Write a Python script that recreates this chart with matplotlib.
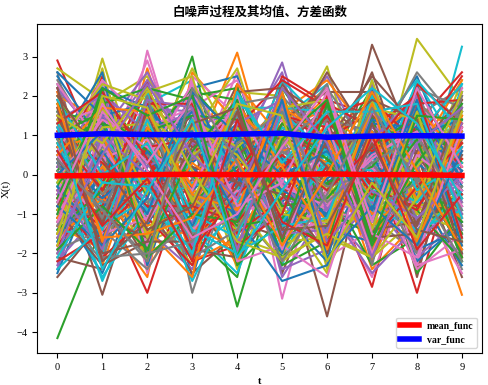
import numpy as np
import matplotlib.pyplot as plt

# white noise sample paths (one row = one path, t = 0..9)
t = np.arange(10)
paths_txt = """
0.5 -1.4 0.9 2.1 -0.3 -1.1 0.2 1.6 -0.7 0.4
-0.6 0.8 -1.2 0.3 3.1 -0.9 1.4 -0.2 0.7 -1.8
-4.15 -1.3 0.6 -0.4 1.1 -1.7 0.3 2.2 -0.9 0.1
2.9 0.2 -1.6 1.3 -0.5 0.8 -1.1 0.6 -3.0 0.9
1.2 -0.7 2.3 -1.9 0.4 1.6 -0.3 -1.2 1.8 -0.6
-1.5 1.7 0.1 -0.8 1.9 -0.2 -1.4 3.3 0.5 -2.1
0.3 -2.2 3.15 -0.6 -1.3 0.9 1.8 -0.4 -1.6 1.2
-0.9 0.6 -0.3 1.7 -2.1 2.4 0.1 -1.5 0.8 -0.2
1.8 -1.1 0.7 -1.4 0.2 -0.6 1.3 -0.9 3.45 1.9
-0.2 2.3 -1.8 0.5 1.5 -2.3 0.7 1.1 -1.0 3.25
0.8 -0.4 1.5 -2.6 0.9 0.3 -1.9 0.4 2.1 -0.7
-1.8 1.1 -0.5 0.2 -1.6 1.3 2.2 -0.8 0.3 -3.05
0.1 -1.9 2.0 0.9 -3.35 0.5 -0.6 1.9 -1.3 0.8
1.5 0.4 -1.0 -1.6 0.6 1.8 -0.1 -2.85 1.4 -0.4
-2.4 0.9 1.2 -0.3 1.0 -1.4 0.9 0.2 -0.5 1.6
0.7 -0.3 -2.2 1.9 -0.8 0.4 -3.6 1.0 0.6 -1.3
-0.4 1.6 0.3 -1.1 2.2 -3.15 1.1 -0.7 -1.9 0.5
2.6 -2.0 0.8 0.6 -0.2 1.1 -0.8 1.7 0.2 -2.4
-1.1 2.95 -0.7 -2.3 0.8 -0.5 2.0 -1.9 1.1 0.3
0.9 -0.8 1.8 2.4 -1.5 2.0 -1.2 0.5 -2.2 1.4
-2.5 0.3 -1.3 1.0 1.4 -0.7 0.6 -1.0 1.5 -0.9
1.3 -1.6 2.7 -0.9 -0.6 1.5 -2.0 2.3 -0.3 0.6
-0.7 1.9 -0.2 3.0 -1.9 0.2 1.5 -0.6 0.9 -1.5
2.2 -0.5 -3.0 0.4 1.7 -1.2 0.4 1.4 -1.7 2.1
-1.3 2.1 1.0 -1.7 0.3 2.85 -0.9 -2.2 0.4 -0.2
0.4 -3.05 0.5 1.5 -1.0 0.7 1.7 0.9 -2.4 1.0
-1.9 1.2 -1.5 -0.2 2.6 -1.8 0.0 1.2 0.7 -0.8
1.0 0.0 2.2 -3.0 0.5 1.0 -1.5 -0.3 1.9 -1.1
-0.1 -1.2 -0.9 1.2 -2.4 0.6 2.75 -1.3 -0.6 2.4
1.6 0.7 1.4 -1.0 0.7 -2.0 -0.5 2.0 -1.1 -0.5
-0.8 -2.5 0.2 2.0 -0.4 1.2 0.8 -0.1 2.3 -1.7
2.0 1.4 -2.4 -0.5 1.8 -0.3 -1.7 0.8 -0.4 0.2
-1.6 -0.2 1.1 0.8 -1.1 2.2 0.5 -2.0 1.2 -2.2
0.2 2.5 -0.6 -1.3 0.1 -1.0 1.9 1.5 -1.5 0.7
-2.2 -0.9 1.7 1.6 -2.0 0.8 -1.0 -0.5 0.1 2.0
1.1 1.0 -1.9 -0.1 2.3 -2.5 0.3 2.6 -0.8 -1.0
-0.5 -1.5 0.4 2.3 -0.7 1.7 -2.3 0.0 1.6 0.4
2.4 0.5 -1.1 -2.1 1.2 -0.4 1.2 -1.1 -2.0 1.8
-1.0 1.8 2.5 0.1 -1.7 0.1 -0.7 1.3 0.9 -1.4
0.6 -2.7 -0.1 1.4 0.9 1.4 2.3 -1.6 -0.1 0.9
-2.0 0.1 1.3 -0.7 -0.1 -1.5 -0.2 0.7 2.5 -0.3
1.4 -1.0 -2.6 2.6 1.3 0.0 1.0 -2.4 -1.2 1.3
-0.3 2.0 0.6 -1.5 -2.6 2.1 -1.3 1.1 0.0 -1.9
0.0 -0.6 1.9 0.7 1.6 -0.8 0.2 -0.9 1.3 2.6
-1.4 1.3 -1.4 -2.4 0.0 0.9 2.5 0.3 -1.4 -0.1
1.9 -1.8 0.0 1.1 -1.2 -1.6 -0.4 1.8 0.5 -2.6
-0.6 0.2 2.9 -0.4 2.0 0.3 -2.1 -1.4 2.0 0.0
2.3 -1.3 -0.8 1.8 -0.9 -2.2 1.4 0.1 -0.7 1.1
-1.2 2.7 -1.7 -1.2 0.4 1.9 -0.3 -0.8 1.0 -1.2
0.3 -0.1 1.6 0.0 -1.4 -0.1 -1.6 2.4 -1.8 2.3
-1.7 1.5 -2.0 2.2 2.5 -0.9 0.7 -1.8 0.3 -0.6
1.7 -2.3 0.9 -1.8 -0.3 1.3 1.6 0.6 -1.0 1.5
-0.2 0.6 -1.2 0.6 1.1 -2.1 -1.1 -0.4 2.2 -2.0
2.1 -0.2 2.4 -2.2 -1.8 0.6 0.9 1.6 -0.2 0.8
-2.3 1.0 -0.4 1.3 0.7 2.6 -1.8 -1.0 1.7 -0.4
0.8 -1.7 0.7 -0.6 -2.2 -0.6 2.1 2.1 -2.6 1.7
-0.9 2.4 -2.5 2.5 1.5 1.0 -0.6 -2.6 0.6 -1.6
1.2 -0.5 1.0 -1.1 -0.5 -1.3 1.3 0.4 1.5 2.2
-1.5 1.6 -0.1 0.5 2.1 2.0 -2.4 -0.2 -0.9 -0.7
0.5 -2.0 2.1 -2.0 -1.0 -1.1 0.4 1.0 2.4 0.5
2.5 0.8 -1.3 1.5 0.8 0.5 -1.4 -1.7 -0.5 -2.3
-0.4 -1.4 1.4 -0.3 -2.3 1.6 2.4 0.9 1.8 1.0
1.0 2.2 -2.1 2.1 1.9 -1.9 -0.2 -2.3 -1.6 -0.3
-1.8 -0.3 0.5 -1.6 -0.6 0.2 1.5 1.9 0.8 2.5
0.4 1.1 2.6 0.4 1.4 -2.4 -1.9 -0.7 -2.1 -1.1
-2.1 -2.4 -0.8 -2.5 -1.5 2.3 0.8 2.5 1.2 0.6
1.5 0.4 1.2 1.7 2.4 -0.2 -0.9 -1.2 -0.6 -2.5
-0.7 -1.1 -1.6 -0.8 -0.9 1.1 2.2 0.5 2.6 1.2
2.7 1.9 0.3 2.7 0.6 -1.7 -1.6 -2.1 -1.1 -0.9
-1.0 -0.7 2.0 -1.4 -2.5 0.4 0.5 1.4 0.2 2.1
0.7 2.6 -2.3 0.9 1.0 -1.0 -2.2 2.2 -1.9 -1.4
-1.3 -1.9 1.5 -2.2 -1.6 1.8 1.0 -0.6 1.4 0.3
1.8 0.9 -0.5 2.0 2.2 -0.5 -1.0 -1.5 -0.4 1.6
-0.6 -0.8 2.3 -0.9 -0.8 2.5 1.8 1.2 2.0 -2.1
0.2 2.1 -1.0 1.2 1.6 -2.6 -0.8 -2.5 -1.3 0.7
-2.6 -1.2 0.8 -1.9 -2.1 0.7 2.6 0.8 1.1 -1.3
1.3 1.7 -1.8 2.4 0.2 -1.4 -1.2 1.7 -2.3 2.2
-0.8 -2.2 1.6 -0.1 -1.3 1.2 0.6 -1.9 0.9 -0.8
2.0 0.3 -2.2 1.0 2.7 -0.8 -2.5 2.0 -0.7 1.4
-1.4 -1.6 0.1 -2.7 -0.4 2.4 1.2 -1.1 2.1 -1.6
0.9 2.2 1.7 0.3 1.3 -1.5 -0.1 0.7 -1.5 0.1
-2.0 -0.4 -2.0 -1.3 -1.9 0.9 2.0 -2.2 0.5 2.4
1.6 1.3 0.9 2.2 0.9 -2.3 -1.7 1.5 -2.5 -1.0
-0.5 -2.1 -1.1 -2.3 -0.1 1.5 0.9 -0.3 1.8 1.9
2.2 0.8 2.4 0.8 -2.0 -0.7 -2.0 2.3 -1.2 -2.0
-1.1 -1.0 -0.3 -1.0 2.1 2.2 1.4 -1.6 0.4 0.9
0.6 2.4 1.3 1.5 -0.7 -1.2 -1.5 0.2 -2.4 -1.5
-1.9 -1.4 -2.4 -0.6 1.1 0.8 2.3 -2.3 2.2 1.7
1.1 0.6 2.1 2.5 -1.6 -2.0 -0.6 1.9 -0.8 -0.5
-0.3 -2.6 -0.9 -1.5 1.7 1.7 1.6 -0.5 1.0 2.3
2.6 1.5 1.8 0.2 -1.1 -2.7 -2.3 0.6 -2.2 -1.2
-1.6 -0.6 -1.4 -2.6 2.3 0.9 0.3 -2.0 1.7 0.4
0.1 1.8 2.2 1.9 -2.3 -1.1 -1.8 2.1 -0.9 -2.2
-2.2 -1.5 -0.2 -0.3 1.2 2.4 1.7 -0.9 2.3 1.3
1.4 2.0 1.1 1.6 -1.7 -0.6 -1.0 1.3 -1.6 -0.8
-0.9 -2.3 -1.7 -1.7 0.5 1.4 2.1 -2.1 0.6 2.0
2.3 0.7 0.4 2.3 -2.2 -1.8 -2.6 0.9 -2.3 -1.9
-1.2 -0.9 -2.1 -1.2 1.8 2.0 0.7 -1.4 1.9 0.6
0.8 2.3 1.9 0.6 -0.8 -2.2 -1.4 2.4 -1.0 -1.4
-2.4 -1.3 -0.6 -2.1 2.0 0.3 1.1 -0.7 2.4 1.1
0.3 -0.9 1.2 -0.4 0.6 -1.3 0.8 -0.2 1.1 -0.5
-1.1 0.5 -0.2 1.4 -0.9 0.3 -1.2 1.0 -0.6 0.8
0.9 1.3 -1.4 -0.7 0.2 1.1 0.4 -1.5 0.0 -1.2
-0.4 -1.0 0.7 0.9 -1.5 -0.6 1.3 0.6 1.4 0.2
1.2 0.1 -0.6 -1.2 1.3 0.7 -0.9 -0.7 -1.3 1.3
-0.8 1.4 1.0 0.2 -0.2 -1.4 0.1 1.5 0.5 -1.0
0.5 -1.5 -1.1 1.1 0.8 1.4 -0.5 -1.1 0.9 0.6
-1.3 0.7 0.3 -1.5 -1.1 0.0 1.6 0.3 -1.1 -0.3
1.4 -0.3 1.5 0.5 1.2 -0.9 -1.3 0.9 0.2 1.5
-0.1 1.1 -0.9 -0.2 -0.7 1.2 0.6 -0.8 -1.4 -0.9
0.6 -0.6 0.4 1.6 0.4 -0.4 -1.0 1.3 1.2 0.1
-1.5 0.2 -1.3 -0.9 1.6 0.6 0.9 -1.3 -0.3 1.1
1.0 1.6 0.6 0.0 -1.3 -1.1 -0.2 0.2 1.6 -1.5
-0.6 -1.3 1.7 -1.1 0.1 1.5 1.2 -0.5 -0.8 0.4
0.2 0.9 -0.4 1.3 -1.0 -0.2 -1.5 1.6 0.7 -0.7
1.5 -1.1 -1.6 0.7 1.1 0.9 0.7 -1.4 -1.2 1.0
-1.2 0.4 0.9 -1.4 -0.4 -1.6 -0.7 0.4 1.3 -0.2
0.1 -0.7 -0.7 0.4 1.5 0.5 1.4 1.1 -0.1 -1.3
-0.9 1.2 1.3 -0.6 -1.4 1.0 -0.4 -1.2 0.4 0.9
1.3 -0.2 -0.1 1.0 0.3 -1.2 0.3 0.1 -1.6 -0.4
-0.3 -1.6 0.6 -1.3 0.9 0.4 -1.1 1.4 1.0 1.4
0.7 1.0 -1.5 0.3 -0.6 1.7 1.0 -1.0 -0.4 -1.1
-1.4 -0.4 1.1 1.5 1.4 -0.8 -0.6 0.7 1.5 0.3
1.1 0.3 -0.8 -0.8 -1.2 0.1 1.5 -0.3 -0.9 1.2
-0.5 1.5 0.2 0.8 0.7 -1.5 -1.4 1.2 0.8 -1.4
0.4 -1.2 1.6 -1.6 -0.3 1.3 0.2 -1.6 -1.5 0.5
-1.0 0.8 -1.2 0.6 1.7 -0.3 -0.8 0.5 1.1 -0.8
1.6 -0.5 0.5 -0.5 -0.8 0.8 1.7 -0.9 -0.2 1.6
-0.2 1.7 -0.5 1.2 0.5 -1.0 -1.2 1.7 1.4 -0.6
0.8 -1.4 1.4 -1.0 -1.6 1.6 0.5 -0.1 -0.7 0.7
-1.7 0.6 -1.0 2.0 0.0 -2.0 1.1 -1.2 1.7 -0.1
2.1 -1.7 1.2 -0.3 1.8 0.2 -1.6 1.8 -1.9 1.5
-0.6 2.0 -2.1 -1.0 -1.2 1.3 0.4 -0.6 0.9 -2.1
1.0 -0.4 1.8 1.8 -1.8 -1.0 2.0 -1.7 -0.3 0.8
-2.0 1.0 0.0 -1.8 1.3 1.9 -0.9 0.9 2.0 -1.0
1.7 -2.0 -1.7 0.9 -0.2 -0.5 -2.0 1.3 -1.3 1.9
-0.1 1.4 0.7 -0.4 2.0 -1.9 1.3 -2.0 0.5 -0.4
0.9 -1.1 2.0 -2.1 -1.4 0.6 -0.3 0.0 -2.0 2.0
-1.5 1.9 -1.6 1.4 0.7 1.7 1.9 -1.4 1.6 -1.7
1.9 0.0 0.8 -1.4 -2.0 -1.3 -1.1 2.0 -0.4 0.3
-0.8 -1.8 -0.6 2.1 1.0 0.0 0.6 -0.9 1.9 -1.8
0.5 1.7 1.6 -0.5 -0.9 2.1 -1.9 1.1 -1.7 1.0
-1.9 -0.8 -1.9 0.6 1.9 -1.7 1.8 -1.8 0.3 1.8
1.3 2.1 0.4 -1.9 -0.5 0.5 -0.4 0.7 2.1 -1.6
-0.4 -1.9 1.9 1.7 -1.9 1.8 -1.7 -0.4 -1.1 0.0
2.0 0.4 -1.4 -0.8 1.6 -1.6 0.9 1.9 1.4 -2.0
-1.2 1.6 0.3 1.9 -0.8 -0.2 2.1 -1.5 -2.1 1.2
0.3 -2.1 -2.0 -1.7 0.8 1.6 -0.7 0.3 1.0 -0.9
1.5 0.8 2.2 0.1 -1.7 -2.1 -1.5 -2.1 -0.6 2.1
-2.1 -0.2 -0.3 -2.0 2.1 0.3 1.6 1.6 1.8 -1.1
0.0 1.1 1.0 1.1 -1.1 1.9 -2.1 -0.8 -1.8 0.6
1.8 -1.6 -1.5 -1.1 0.4 -1.8 0.0 2.1 0.1 -1.9
-1.0 2.2 1.5 2.0 -2.1 0.9 1.9 -1.7 1.5 1.4
0.6 -1.3 -0.1 -2.2 1.4 -1.2 -1.8 1.0 -1.9 -0.5
-1.6 0.5 2.3 0.5 -0.6 2.2 0.8 -2.1 0.8 1.7
2.2 -2.2 -1.2 1.3 1.7 -1.4 -1.3 0.8 -1.4 -1.7
-0.7 1.8 0.1 -1.6 -1.0 0.7 2.2 -1.2 2.2 0.2
0.4 -0.9 -2.2 2.2 0.3 -2.2 -0.5 1.7 -0.2 -2.2
-1.8 2.0 1.7 -0.7 1.8 1.5 -2.2 -0.2 -1.6 1.6
1.2 -2.4 -0.4 1.4 -2.1 -0.4 1.2 2.2 1.3 -0.6
"""
paths = np.array([row.split() for row in paths_txt.strip().splitlines()], dtype=float)

# mean / variance functions as drawn in the picture
mean_func = [-0.03, -0.02, 0.0, 0.01, 0.0, 0.0, 0.02, 0.0, 0.0, -0.02]
var_func = [1.0, 1.04, 1.02, 1.01, 1.03, 1.05, 0.95, 0.98, 0.99, 0.98]

serif = ['Liberation Serif', 'DejaVu Serif']
plt.rcParams['font.family'] = serif

fig = plt.figure(figsize=(4.89, 3.85), dpi=100)
ax = fig.add_axes([0.076, 0.083, 0.910, 0.855])

for row in paths:
    ax.plot(t, row)
ax.plot(t, mean_func, color='red', linewidth=4, label='mean_func')
ax.plot(t, var_func, color='blue', linewidth=4, label='var_func')

ax.set_xticks(t)
ax.tick_params(labelsize=7.5)
ax.set_xlabel('t', fontsize=7.5, fontweight='bold')
ax.set_ylabel('X(t)', fontsize=8)
ax.set_title('白噪声过程及其均值、方差函数', fontsize=9, fontweight='bold',
             family=['Noto Sans CJK SC', 'DejaVu Sans'])
ax.legend(loc='lower right', prop={'family': serif, 'weight': 'bold', 'size': 7})

fig.savefig('out.png', dpi=100)
